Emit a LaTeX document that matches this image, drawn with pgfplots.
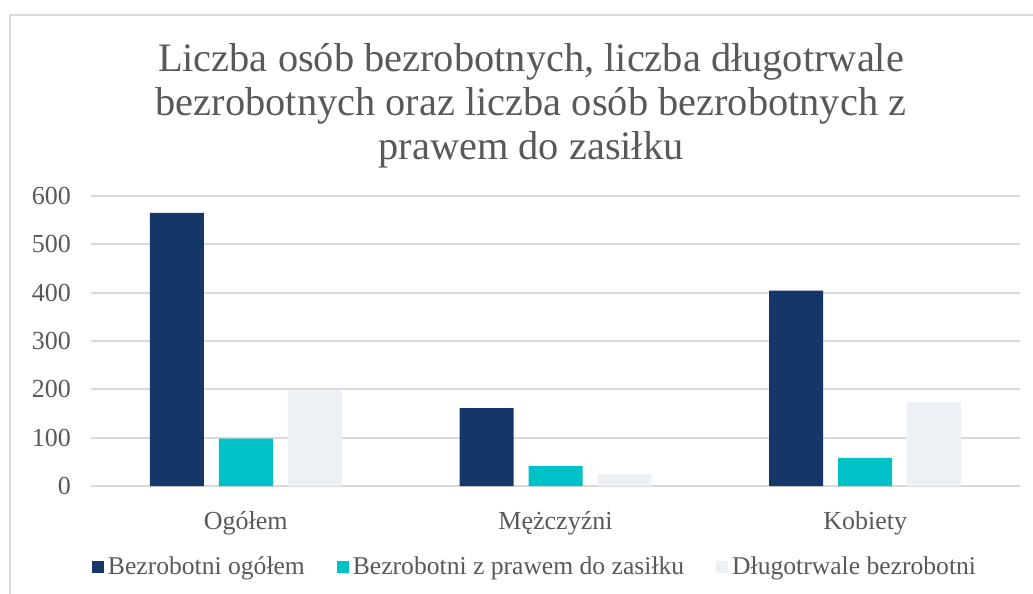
\documentclass[border=0pt]{standalone}
\usepackage{pgfplots}
\pgfplotsset{compat=1.18}
\usepackage{fontspec}
\setmainfont{Liberation Serif}
\definecolor{navy}{HTML}{143668}
\definecolor{turk}{HTML}{00C0C8}
\definecolor{jasny}{HTML}{EDF0F5}
\definecolor{siatka}{HTML}{D9D9D9}
\definecolor{tekst}{HTML}{595959}
\begin{document}
\begin{tikzpicture}
\useasboundingbox (0,0) rectangle (516.5pt,297pt);
\draw[siatka, line width=1.2pt] (5pt,0) -- (5pt,289.5pt) -- (516.5pt,289.5pt);
\node[anchor=north, align=center, inner sep=0pt, text=tekst,
  font=\fontsize{20.2}{22}\selectfont] at (265.5pt,275.5pt)
  {Liczba osób bezrobotnych, liczba długotrwale\\bezrobotnych oraz liczba osób bezrobotnych z\\prawem do zasiłku};
\begin{axis}[at={(45.5pt,54pt)}, anchor=south west,
  scale only axis, width=464.5pt, height=145pt,
  ybar=7.5pt, bar width=27pt,
  xmin=-0.5, xmax=2.5, ymin=0, ymax=600,
  xtick={0,1,2}, xticklabels={Ogółem,Mężczyźni,Kobiety},
  ytick={0,100,...,600},
  axis line style={draw=none},
  tick style={draw=none},
  ymajorgrids, major grid style={siatka, line width=1pt},
  /pgf/number format/assume math mode=true,
  tick label style={font=\fontsize{13}{14}\selectfont, text=tekst},
  yticklabel style={xshift=-6.5pt},
  xticklabel style={yshift=-5pt},
  legend style={draw=none, at={(0.479,-0.279)}, anchor=center,
    legend columns=3, font=\fontsize{12.8}{14}\selectfont, text=tekst,
    /tikz/every even column/.append style={column sep=14pt}},
  legend image code/.code={\fill (0pt,-3pt) rectangle (6pt,3pt);},
]
\addplot[fill=navy, draw=none] coordinates {(0,565) (1,161) (2,404)};
\addlegendentry{Bezrobotni ogółem}
\addplot[fill=turk, draw=none] coordinates {(0,98) (1,41) (2,58)};
\addlegendentry{Bezrobotni z prawem do zasiłku}
\addplot[fill=jasny, draw=none] coordinates {(0,198) (1,25) (2,173)};
\addlegendentry{Długotrwale bezrobotni}
\end{axis}
\end{tikzpicture}
\end{document}
